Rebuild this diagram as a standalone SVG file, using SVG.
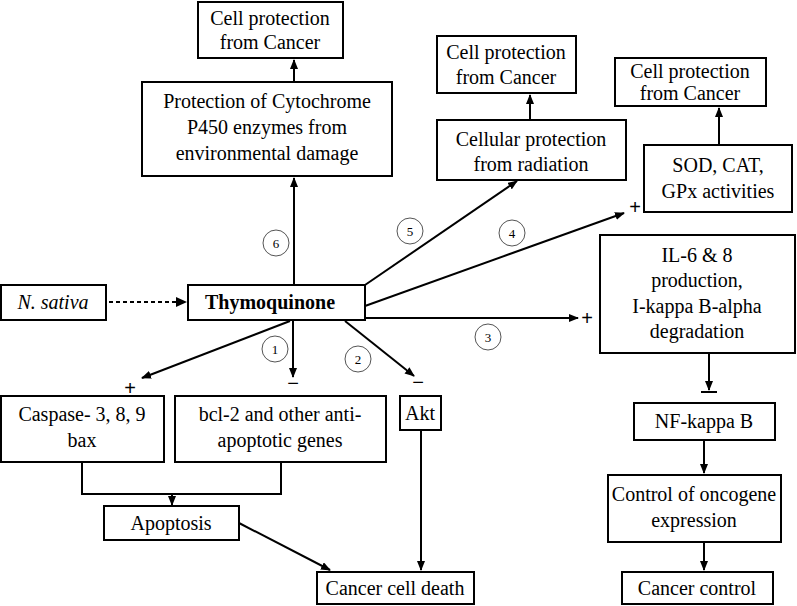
<svg xmlns="http://www.w3.org/2000/svg" width="797" height="606" viewBox="0 0 797 606">
<style>
rect{fill:#fff;stroke:#000;stroke-width:2}
text{text-anchor:middle;fill:#000}
.c line,.c path{stroke:#000;stroke-width:2;fill:none}
circle{fill:#fff;stroke:#555;stroke-width:1}
</style>
<defs><marker id="a" markerWidth="10" markerHeight="8" refX="9" refY="4" orient="auto" markerUnits="userSpaceOnUse"><path d="M0,0L10,4L0,8z" fill="#000"/></marker></defs>
<g class="c">
<line x1="294" y1="284" x2="294" y2="178" marker-end="url(#a)"/>
<line x1="294" y1="82" x2="294" y2="60" marker-end="url(#a)"/>
<line x1="530" y1="120" x2="530" y2="95" marker-end="url(#a)"/>
<line x1="719" y1="145" x2="719" y2="108" marker-end="url(#a)"/>
<line x1="365" y1="285" x2="517" y2="181" marker-end="url(#a)"/>
<line x1="365" y1="306" x2="624" y2="213" marker-end="url(#a)"/>
<line x1="365" y1="318" x2="578" y2="318" marker-end="url(#a)"/>
<line x1="709" y1="353" x2="709" y2="390" marker-end="url(#a)"/>
<line x1="701" y1="392" x2="717" y2="392"/>
<line x1="704" y1="440" x2="704" y2="473" marker-end="url(#a)"/>
<line x1="704" y1="542" x2="704" y2="570" marker-end="url(#a)"/>
<line x1="290" y1="321" x2="142" y2="378" marker-end="url(#a)"/>
<line x1="293" y1="321" x2="293" y2="377" marker-end="url(#a)"/>
<line x1="345" y1="321" x2="414" y2="376" marker-end="url(#a)"/>
<path d="M82,462V494H281V462"/>
<line x1="172" y1="494" x2="172" y2="505" marker-end="url(#a)"/>
<line x1="239" y1="523" x2="330" y2="570" marker-end="url(#a)"/>
<line x1="421" y1="430" x2="421" y2="570" marker-end="url(#a)"/>
<line x1="109" y1="302" x2="178" y2="302" stroke-dasharray="4,3" stroke-width="3"/>
</g>
<path d="M176,297L187,302L176,307z" fill="#000"/>
<g font-family="'Liberation Sans', sans-serif" font-size="20">
<text x="130" y="395">+</text>
<text x="293" y="390">−</text>
<text x="418" y="389">−</text>
<text x="587" y="325">+</text>
<text x="635" y="214">+</text>
</g>
<g font-family="'Liberation Serif', 'DejaVu Serif', serif" font-size="13">
<circle cx="276" cy="243" r="13"/><text x="276" y="248">6</text>
<circle cx="410" cy="231" r="13"/><text x="410" y="236">5</text>
<circle cx="512" cy="233" r="13"/><text x="512" y="238">4</text>
<circle cx="488" cy="337" r="13"/><text x="488" y="342">3</text>
<circle cx="275" cy="349" r="13"/><text x="275" y="354">1</text>
<circle cx="358" cy="359" r="13"/><text x="358" y="364">2</text>
</g>
<g font-family="'Liberation Serif', 'DejaVu Serif', serif" font-size="20">
<g id="cp1"><rect x="198" y="2" width="145" height="56"/><text x="270" y="25">Cell protection</text><text x="270" y="49">from Cancer</text></g>
<g id="p450"><rect x="142" y="82" width="250" height="94"/><text x="267" y="108">Protection of Cytochrome</text><text x="267" y="134">P450 enzymes from</text><text x="267" y="160">environmental damage</text></g>
<g id="cp2"><rect x="437" y="36" width="139" height="57"/><text x="506" y="59">Cell protection</text><text x="506" y="84">from Cancer</text></g>
<g id="rad"><rect x="437" y="120" width="189" height="60"/><text x="531" y="146">Cellular protection</text><text x="531" y="171">from radiation</text></g>
<g id="cp3"><rect x="615" y="58" width="151" height="48"/><text x="690" y="78">Cell protection</text><text x="690" y="100">from Cancer</text></g>
<g id="sod"><rect x="644" y="145" width="148" height="67"/><text x="718" y="172">SOD, CAT,</text><text x="718" y="198">GPx activities</text></g>
<g id="il"><rect x="600" y="235" width="195" height="118"/><text x="697" y="262">IL-6 &amp; 8</text><text x="697" y="287">production,</text><text x="697" y="313">I-kappa B-alpha</text><text x="697" y="338">degradation</text></g>
<g id="nf"><rect x="634" y="403" width="141" height="37"/><text x="704" y="428">NF-kappa B</text></g>
<g id="onc"><rect x="608" y="475" width="173" height="67"/><text x="694" y="501">Control of oncogene</text><text x="694" y="527">expression</text></g>
<g id="cc"><rect x="622" y="572" width="151" height="32"/><text x="697" y="595">Cancer control</text></g>
<g id="ns"><rect x="1" y="285" width="105" height="35"/><text x="53" y="309" font-style="italic">N. sativa</text></g>
<g id="tq"><rect x="188" y="285" width="177" height="35"/><text x="270" y="309" font-weight="bold">Thymoquinone</text></g>
<g id="casp"><rect x="1" y="396" width="163" height="66"/><text x="82" y="421">Caspase- 3, 8, 9</text><text x="82" y="447">bax</text></g>
<g id="bcl"><rect x="175" y="396" width="211" height="66"/><text x="280" y="421">bcl-2 and other anti-</text><text x="280" y="447">apoptotic genes</text></g>
<g id="akt"><rect x="400" y="396" width="41" height="34"/><text x="420" y="420">Akt</text></g>
<g id="apo"><rect x="104" y="506" width="135" height="34"/><text x="171" y="530">Apoptosis</text></g>
<g id="ccd"><rect x="317" y="572" width="157" height="32"/><text x="395" y="595">Cancer cell death</text></g>
</g>
</svg>
